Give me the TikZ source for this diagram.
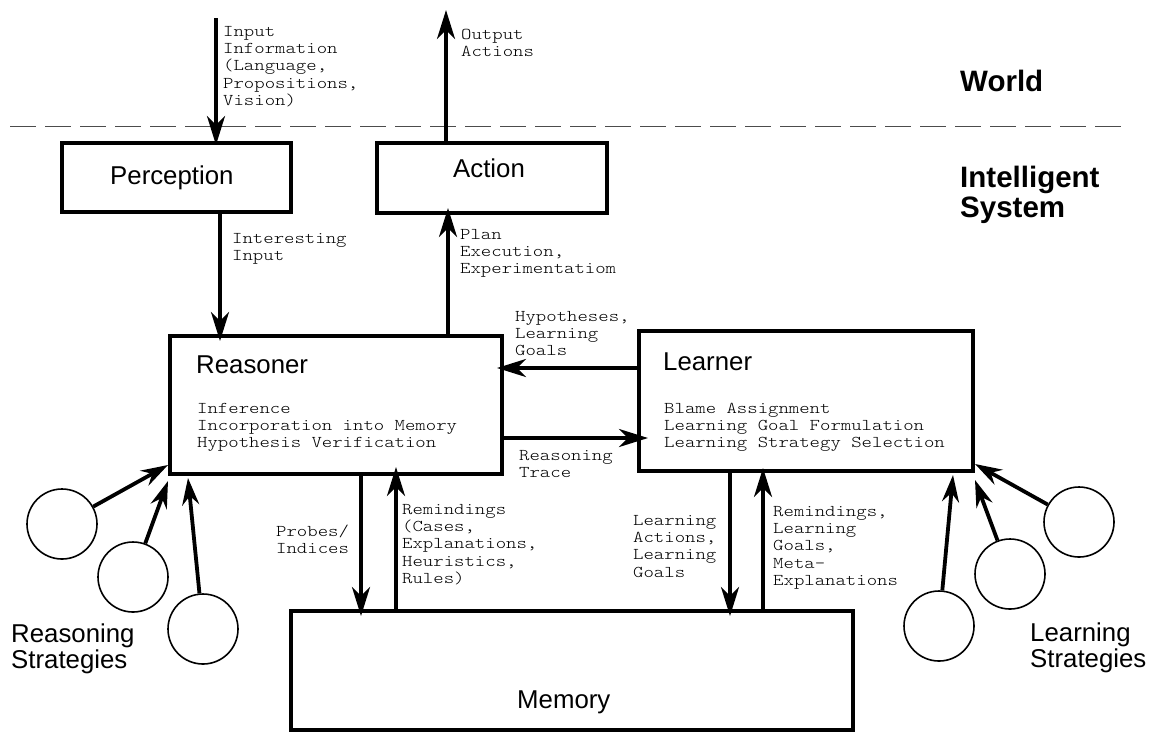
\documentclass[tikz,border=0pt]{standalone}
\usepackage{fontspec}
\setmainfont{Liberation Sans}
\newfontfamily\cour{lmmonolt10-regular.otf}[FakeStretch=1.2]
\usetikzlibrary{arrows.meta}
\begin{document}
\begin{tikzpicture}[x=1pt,y=-1pt,
  box/.style={draw, line width=4pt, inner sep=0pt},
  sans/.style={font=\fontsize{25.8}{26}\selectfont, inner sep=0pt, anchor=base west, align=left},
  big/.style={font=\fontsize{29.5}{30}\selectfont\bfseries, inner sep=0pt, anchor=base west, align=left},
  mono/.style={font=\cour\fontsize{16.5}{17.4}\selectfont, inner sep=0pt, anchor=base west, align=left},
  arr/.style={line width=3.8pt, -{Stealth[length=29pt,width=18pt,inset=9pt]}, shorten >=-7pt},
  circarr/.style={line width=3.8pt, -{Stealth[length=27pt,width=17pt,inset=9pt]}},
  strat/.style={draw, circle, line width=1.6pt, minimum size=70pt, inner sep=0pt},
  sep/.style={draw=black!70, line width=1pt, dash pattern=on 26pt off 9pt}]
\useasboundingbox (0,0) rectangle (1150,732);

% separator
\coordinate (sepL) at (10,126);
\coordinate (sepR) at (1124,126);
\draw[sep] (sepL) -- (sepR);
\node[big] (world) at (960,91) {World};
\node[big] (insys) at (960,217) {Intelligent\\System};

% boxes
\node[box, minimum width=229pt, minimum height=69pt] (perc) at (176.5,177.5) {};
\node[box, minimum width=230pt, minimum height=70pt] (act) at (492,178) {};
\node[box, minimum width=332pt, minimum height=138pt] (reas) at (336,405) {};
\node[box, minimum width=334pt, minimum height=140pt] (learn) at (806,401) {};
\node[box, minimum width=562pt, minimum height=119pt] (mem) at (572,670.5) {};

\node[sans] (percT) at (110,184) {Perception};
\node[sans] (actT) at (453,177) {Action};
\node[sans] (reasT) at (196,373) {Reasoner};
\node[sans] (learnT) at (663,370) {Learner};
\node[sans] (memT) at (517,708) {Memory};
\node[mono] (reasL) at (197,447.8) {Inference\\Incorporation into Memory\\Hypothesis Verification};
\node[mono] (learnL) at (664,447.8) {Blame Assignment\\Learning Goal Formulation\\Learning Strategy Selection};

% world arrows
\coordinate (inTop) at (216,18);
\coordinate (outTop) at (446,10);
\draw[arr, shorten >=-4pt] (inTop) -- (perc.north -| inTop);
\node[mono] (inL) at (223,105.6) {Input\\Information\\(Language,\\Propositions,\\Vision)};
\draw[arr, shorten >=0pt] (act.north -| outTop) -- (outTop);
\node[mono] (outL) at (461,56.4) {Output\\Actions};

% internal arrows
\draw[arr] (perc.south -| 220,0) -- (reas.north -| 220,0);
\node[mono] (intL) at (232,260.4) {Interesting\\Input};
\draw[arr] (reas.north -| 448,0) -- (act.south -| 448,0);
\node[mono] (planL) at (460,273.8) {Plan\\Execution,\\Experimentatiom};
\draw[arr] (learn.west |- 0,368) -- (reas.east |- 0,368);
\node[mono] (hypL) at (515,355.8) {Hypotheses,\\Learning\\Goals};
\draw[arr, shorten >=-11pt] (reas.east |- 0,438) -- (learn.west |- 0,438);
\node[mono] (trL) at (519,477.4) {Reasoning\\Trace};
\draw[arr] (reas.south -| 361,0) -- (mem.north -| 361,0);
\node[mono] (probL) at (276,553.4) {Probes/\\Indices};
\draw[arr, shorten >=-9pt] (mem.north -| 396,0) -- (reas.south -| 396,0);
\node[mono] (remL) at (402,583.6) {Remindings\\(Cases,\\Explanations,\\Heuristics,\\Rules)};
\draw[arr] (learn.south -| 730,0) -- (mem.north -| 730,0);
\node[mono] (laL) at (633,577.2) {Learning\\Actions,\\Learning\\Goals};
\draw[arr, shorten >=-5pt] (mem.north -| 763,0) -- (learn.south -| 763,0);
\node[mono] (rem2L) at (773,585.6) {Remindings,\\Learning\\Goals,\\Meta-\\Explanations};

% strategies
\node[strat] (c1) at (62,524) {};
\node[strat] (c2) at (133,577) {};
\node[strat] (c3) at (203,629) {};
\node[strat] (c4) at (1079,522) {};
\node[strat] (c5) at (1010,574) {};
\node[strat] (c6) at (939,626) {};
\draw[circarr] (c1) -- ([yshift=11pt]reas.south west);
\draw[circarr] (c2) -- ([yshift=-5pt]reas.south west);
\draw[circarr] (c3) -- ([xshift=20pt,yshift=-2pt]reas.south west);
\draw[circarr] (c4) -- ([yshift=9pt]learn.south east);
\draw[circarr] (c5) -- ([yshift=-7pt]learn.south east);
\draw[circarr] (c6) -- ([xshift=-22pt,yshift=-2pt]learn.south east);
\node[sans] (rsT) at (11,668) {Reasoning\\Strategies};
\node[sans] (lsT) at (1030,667) {Learning\\Strategies};
\end{tikzpicture}
\end{document}
